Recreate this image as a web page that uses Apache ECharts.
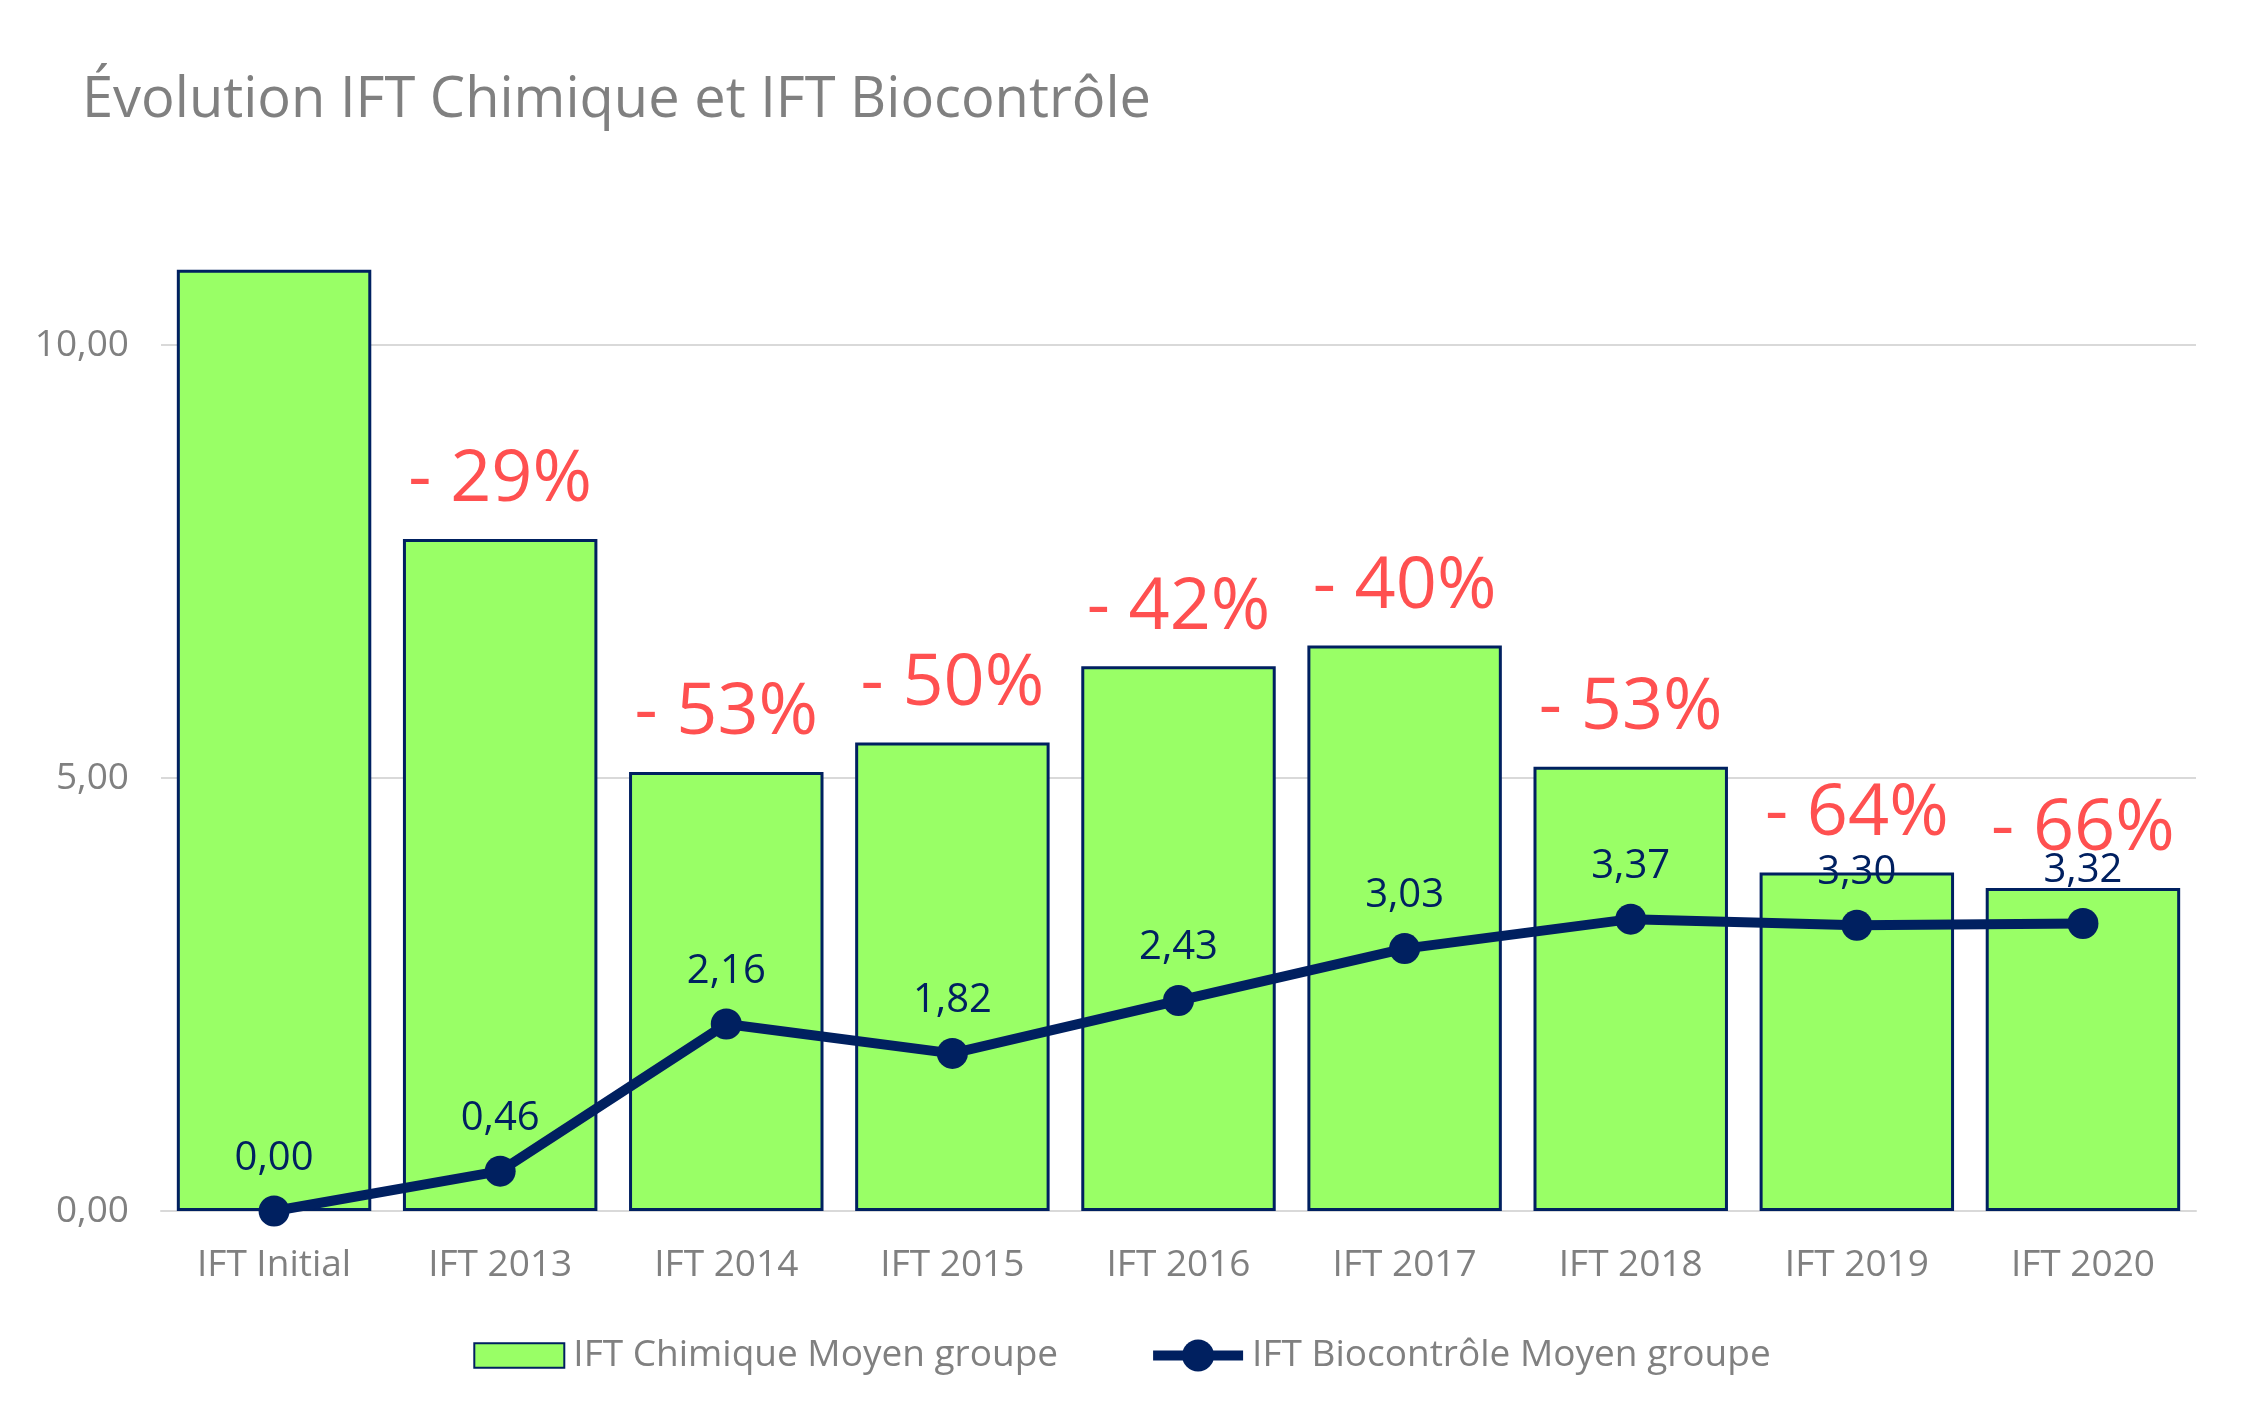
<!DOCTYPE html>
<html>
<head>
<meta charset="utf-8">
<script src="https://cdn.jsdelivr.net/npm/echarts@6/dist/echarts.min.js"></script>
<style>
html,body{margin:0;padding:0;background:#fff;}
#chart{width:2244px;height:1423px;}
</style>
</head>
<body>
<div id="chart"></div>
<script>
const categories = ['IFT Initial','IFT 2013','IFT 2014','IFT 2015','IFT 2016','IFT 2017','IFT 2018','IFT 2019','IFT 2020'];
const chimique = [10.87, 7.76, 5.07, 5.41, 6.29, 6.53, 5.13, 3.91, 3.73];
const biocontrole = [0.00, 0.46, 2.16, 1.82, 2.43, 3.03, 3.37, 3.30, 3.32];
const pctLabels = ['', '- 29%', '- 53%', '- 50%', '- 42%', '- 40%', '- 53%', '- 64%', '- 66%'];
const yTicks = [0, 5, 10];

const FONT = "'Open Sans', 'Noto Sans', sans-serif";
const GRAY = '#808080';
const NAVY = '#002060';
const fmt = v => Number(v).toFixed(2).replace('.', ',');

const chart = echarts.init(document.getElementById('chart'), null, {renderer: 'canvas'});
chart.setOption({
  backgroundColor: '#ffffff',
  animation: false,
  textStyle: {fontFamily: FONT},
  title: {
    text: 'Évolution IFT Chimique et IFT Biocontrôle',
    left: 77, top: 68,
    textStyle: {fontFamily: FONT, fontSize: 56, fontWeight: 'normal', color: GRAY}
  },
  legend: {
    bottom: 44,
    left: 'center',
    itemWidth: 90, itemHeight: 40, itemGap: 90,
    symbolKeepAspect: true,
    lineStyle: {width: 10},
    textStyle: {fontFamily: FONT, fontSize: 37, color: GRAY, padding: [0,0,0,4]},
    data: [
      {name: 'IFT Chimique Moyen groupe', icon: 'path://M0,0H88V24H0Z'},
      {name: 'IFT Biocontrôle Moyen groupe'}
    ]
  },
  grid: {left: 161, right: 48, top: 345, bottom: 212},
  xAxis: {
    type: 'category',
    data: categories,
    axisLine: {show: true, lineStyle: {color: '#d9d9d9', width: 2}},
    axisTick: {show: false},
    axisLabel: {color: GRAY, fontFamily: FONT, fontSize: 37, margin: 36}
  },
  yAxis: {
    type: 'value',
    min: 0, max: 10, interval: 5,
    axisLine: {show: false},
    axisTick: {show: false},
    splitLine: {show: true, lineStyle: {color: '#d9d9d9', width: 2}},
    axisLabel: {
      color: GRAY, fontFamily: FONT, fontSize: 37, margin: 32,
      formatter: v => yTicks.includes(v) ? fmt(v) : ''
    }
  },
  series: [
    {
      name: 'IFT Chimique Moyen groupe',
      type: 'bar',
      data: chimique,
      clip: false,
      barCategoryGap: '14%',
      itemStyle: {color: '#99ff66', borderColor: NAVY, borderWidth: 3},
      label: {
        show: true, position: 'top', distance: 22,
        fontFamily: FONT, fontSize: 72, color: '#ff5050',
        formatter: p => pctLabels[p.dataIndex]
      },
      z: 2
    },
    {
      name: 'IFT Biocontrôle Moyen groupe',
      type: 'line',
      data: biocontrole,
      symbol: 'circle',
      symbolSize: 31,
      lineStyle: {color: NAVY, width: 10},
      itemStyle: {color: NAVY},
      label: {
        show: true, position: 'top', distance: 17,
        fontFamily: FONT, fontSize: 40, color: NAVY,
        formatter: p => fmt(p.value)
      },
      z: 5
    }
  ]
});
</script>
</body>
</html>
